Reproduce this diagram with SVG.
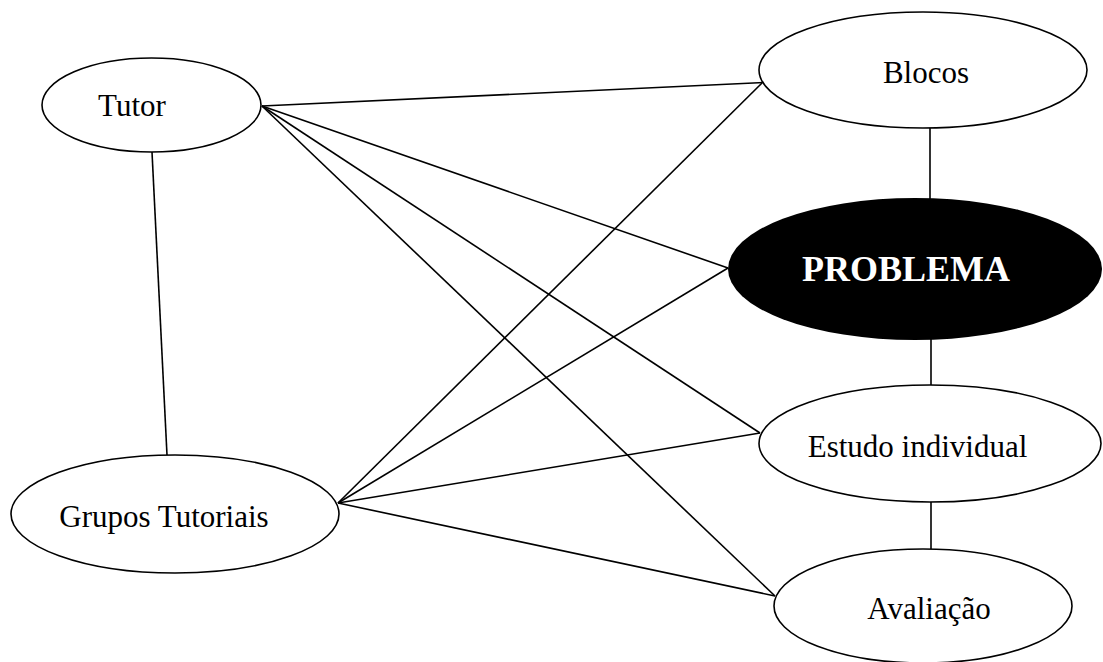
<svg xmlns="http://www.w3.org/2000/svg" width="1103" height="662" viewBox="0 0 1103 662">
<style>
.n{fill:#fff;stroke:#000;stroke-width:1.6}
.c line{stroke:#000;stroke-width:1.6}
.t{font-family:"Liberation Serif","Times New Roman",serif;font-size:31px;fill:#000;text-anchor:middle}
.b{font-family:"Liberation Serif","Times New Roman",serif;font-size:36px;font-weight:bold;fill:#fff;text-anchor:middle}
</style>
<rect width="1103" height="662" fill="#fff"/>
<g class="c" id="connectors">
<line x1="262" y1="106" x2="775" y2="82"/>
<line x1="262" y1="106" x2="728" y2="268"/>
<line x1="262" y1="106" x2="760" y2="433"/>
<line x1="262" y1="106" x2="775" y2="596"/>
<line x1="338" y1="503" x2="762" y2="83"/>
<line x1="338" y1="503" x2="728" y2="268"/>
<line x1="338" y1="503" x2="760" y2="433"/>
<line x1="338" y1="503" x2="775" y2="596"/>
<line x1="152" y1="152" x2="167" y2="455"/>
<line x1="930" y1="128" x2="930" y2="200"/>
<line x1="931" y1="338" x2="931" y2="385"/>
<line x1="931" y1="502" x2="931" y2="549"/>
</g>
<g id="tutor"><ellipse class="n" cx="151.5" cy="105" rx="109.5" ry="47"/><text class="t" x="132" y="116">Tutor</text></g>
<g id="blocos"><ellipse class="n" cx="923" cy="70" rx="164" ry="58"/><text class="t" x="926" y="83">Blocos</text></g>
<g id="problema"><ellipse cx="915" cy="269" rx="187" ry="71" fill="#000"/><text class="b" x="906" y="281">PROBLEMA</text></g>
<g id="estudo"><ellipse class="n" cx="930" cy="443.5" rx="171" ry="58.5"/><text class="t" x="917.5" y="457">Estudo individual</text></g>
<g id="grupos"><ellipse class="n" cx="175" cy="514" rx="164" ry="59"/><text class="t" x="164" y="527">Grupos Tutoriais</text></g>
<g id="avaliacao"><ellipse class="n" cx="923" cy="606" rx="149" ry="57"/><text class="t" x="929" y="619">Avaliação</text></g>
</svg>
